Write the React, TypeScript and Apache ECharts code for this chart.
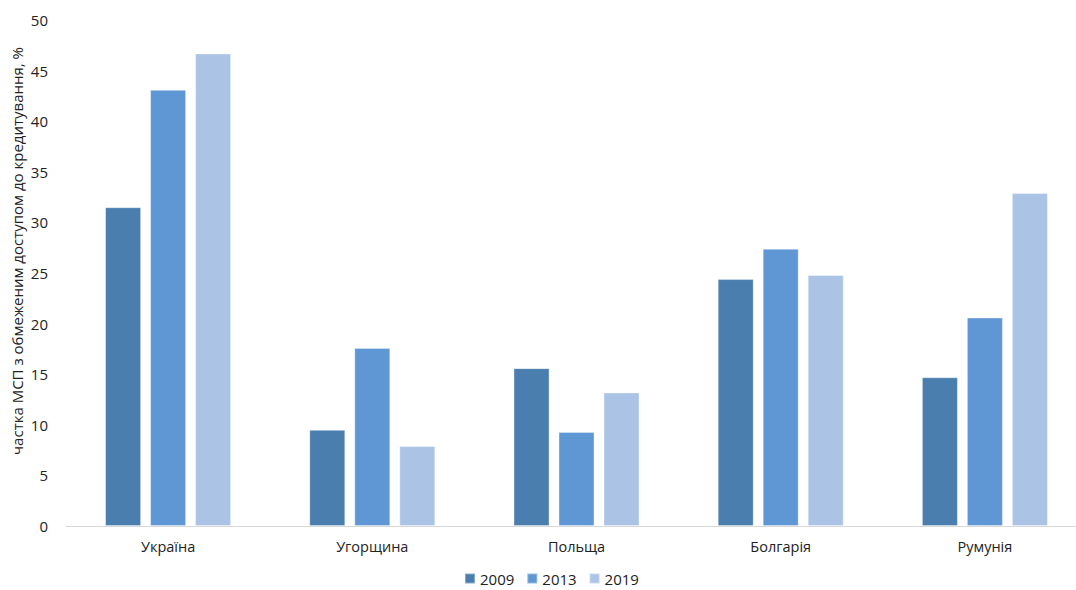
import React, { useEffect, useRef } from "react";
import * as echarts from "echarts";

const categories = ["Україна", "Угорщина", "Польща", "Болгарія", "Румунія"];
const years = ["2009", "2013", "2019"];
const values2009 = [31.5, 9.5, 15.6, 24.4, 14.7];
const values2013 = [43.1, 17.6, 9.3, 27.4, 20.6];
const values2019 = [46.7, 7.9, 13.2, 24.8, 32.9];
const colors = ["#4a7eaf", "#5f97d4", "#abc4e6"];
const yTitle = "частка МСП з обмеженим доступом до кредитування, %";

export default function App() {
  const ref = useRef<HTMLDivElement>(null);
  useEffect(() => {
    if (!ref.current) return;
    const chart = echarts.init(ref.current, undefined, { renderer: "svg" });
    const font = "'Open Sans', 'Noto Sans', sans-serif";
    const seriesData = [values2009, values2013, values2019];
    chart.setOption({
      animation: false,
      textStyle: { fontFamily: font },
      grid: { left: 66, top: 20, right: 0, bottom: 64, containLabel: false },
      legend: {
        bottom: -1,
        left: 459,
        itemWidth: 10,
        itemHeight: 10,
        itemGap: 12,
        icon: "rect",
        textStyle: { fontSize: 15, color: "#222", fontFamily: font },
        data: years,
      },
      xAxis: {
        type: "category",
        data: categories,
        axisLine: { lineStyle: { color: "#d9d9d9" } },
        axisTick: { show: false },
        axisLabel: { fontSize: 14.5, color: "#222", margin: 13, fontFamily: font },
      },
      yAxis: {
        type: "value",
        min: 0,
        max: 50,
        interval: 5,
        splitLine: { show: false },
        axisLine: { show: false },
        axisTick: { show: false },
        axisLabel: { fontSize: 15, color: "#222", margin: 18, fontFamily: font },
      },
      graphic: [
        {
          type: "text",
          x: 17,
          y: 251,
          rotation: Math.PI / 2,
          style: {
            text: yTitle,
            fontSize: 15,
            fill: "#222",
            fontFamily: font,
            align: "center",
            verticalAlign: "middle",
          },
        },
      ],
      series: years.map((y, i) => ({
        name: y,
        type: "bar",
        data: seriesData[i],
        barWidth: 36,
        barGap: "25%",
        itemStyle: { color: colors[i], borderColor: "rgba(255,255,255,0.35)", borderWidth: 1 },
      })),
    });
    return () => chart.dispose();
  }, []);
  return (
    <div
      ref={ref}
      style={{ position: "fixed", left: 0, top: 0, width: 1087, height: 590, background: "#fff" }}
    />
  );
}
